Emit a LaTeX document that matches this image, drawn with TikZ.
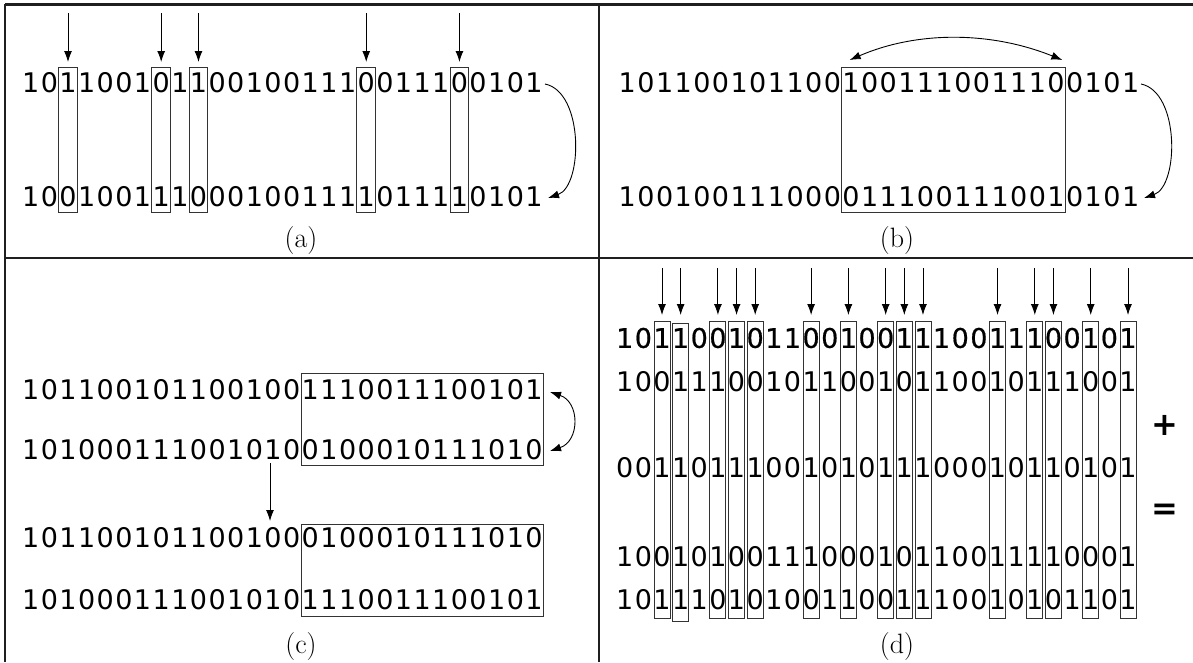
\documentclass[tikz,border=0pt]{standalone}
\usepackage{fontspec}
\newfontfamily\digfont{DejaVu Sans}
\newfontfamily\digboldfont[FakeBold=0.7]{DejaVu Sans}
\usetikzlibrary{arrows.meta}
\def\pp{18.64}
\tikzset{
  dig/.style={inner sep=0pt, font=\digfont\fontsize{27}{30}\selectfont},
  digb/.style={inner sep=0pt, font=\digboldfont\fontsize{27}{30}\selectfont},
  sym/.style={inner sep=0pt, font=\digfont\bfseries\fontsize{32}{36}\selectfont},
  lab/.style={inner sep=0pt, font=\fontsize{28}{32}\selectfont},
  frame/.style={line width=2.5pt, draw=black!88},
  selbox/.style={draw=black!80, line width=0.9pt},
  arr/.style={line width=0.9pt, -{Latex[length=11pt,width=8pt]}},
  darr/.style={line width=0.9pt, {Latex[length=11pt,width=8pt]}-{Latex[length=11pt,width=8pt]}},
}
% style, name, x0, y, digits
\newcommand\digrow[5]{%
  \foreach \d [count=\i from 0] in {#5} {\node[#1] (#2-\i) at ({#3+(\i+0.5)*\pp},#4) {\d};}}
% x0, index, ytop, ybot, half width
\newcommand\slotbox[5]{%
  \draw[selbox] ({#1+(#2+0.5)*\pp-#5},#3) rectangle ({#1+(#2+0.5)*\pp+#5},#4);}
% name, x0, index, ytop, ybot
\newcommand\slotarrow[5]{%
  \coordinate (#1-s) at ({#2+(#3+0.5)*\pp},#4);
  \coordinate (#1-e) at ({#2+(#3+0.5)*\pp},#5);
  \draw[arr] (#1-s) -- (#1-e);}
\begin{document}
\begin{tikzpicture}[x=1pt,y=-1pt]
\useasboundingbox (0,0) rectangle (1193,662);
% frame
\draw[frame] (5,4.5) -- (1193,4.5);
\draw[frame] (5,3.5) -- (5,662);
\draw[frame] (599,4) -- (599,662);
\draw[frame] (5,258) -- (1193,258);

% ---------- (a)
\def\xa{21.4}
\digrow{dig}{a1}{\xa}{83}{1,0,1,1,0,0,1,0,1,1,0,0,1,0,0,1,1,1,0,0,1,1,1,0,0,1,0,1}
\digrow{dig}{a2}{\xa}{197}{1,0,0,1,0,0,1,1,1,0,0,0,1,0,0,1,1,1,1,0,1,1,1,1,0,1,0,1}
\foreach \k in {2,7,9,18,23} {
  \slotbox{\xa}{\k}{67}{212}{9.32}
  \slotarrow{aa\k}{\xa}{\k}{13}{62}
}
\coordinate (ac1) at (545,84);
\coordinate (ac2) at (548,198);
\draw[arr] (ac1) .. controls (584,92) and (583,186) .. (ac2);
\node[lab] (la) at (301,241) {(a)};

% ---------- (b)
\def\xb{618}
\digrow{dig}{b1}{\xb}{83}{1,0,1,1,0,0,1,0,1,1,0,0,1,0,0,1,1,1,0,0,1,1,1,0,0,1,0,1}
\digrow{dig}{b2}{\xb}{197}{1,0,0,1,0,0,1,1,1,0,0,0,0,1,1,1,0,0,1,1,1,0,0,1,0,1,0,1}
\draw[selbox] ({\xb+12*\pp},67) rectangle ({\xb+24*\pp},212);
\coordinate (bd1) at ({\xb+12*\pp+8},60);
\coordinate (bd2) at ({\xb+24*\pp-3},60);
\draw[darr] (bd1) .. controls ({\xb+12*\pp+75},31) and ({\xb+24*\pp-75},31) .. (bd2);
\coordinate (bc1) at (1141,84);
\coordinate (bc2) at (1144,198);
\draw[arr] (bc1) .. controls (1180,92) and (1179,186) .. (bc2);
\node[lab] (lb) at (897,241) {(b)};

% ---------- (c)
\def\xc{21.4}
\digrow{dig}{c1}{\xc}{390}{1,0,1,1,0,0,1,0,1,1,0,0,1,0,0,1,1,1,0,0,1,1,1,0,0,1,0,1}
\digrow{dig}{c2}{\xc}{450}{1,0,1,0,0,0,1,1,1,0,0,1,0,1,0,0,1,0,0,0,1,0,1,1,1,0,1,0}
\digrow{dig}{c3}{\xc}{538}{1,0,1,1,0,0,1,0,1,1,0,0,1,0,0,0,1,0,0,0,1,0,1,1,1,0,1,0}
\digrow{dig}{c4}{\xc}{600}{1,0,1,0,0,0,1,1,1,0,0,1,0,1,0,1,1,1,0,0,1,1,1,0,0,1,0,1}
\draw[selbox] ({\xc+15*\pp},373) rectangle ({\xc+28*\pp},465);
\draw[selbox] ({\xc+15*\pp},524) rectangle ({\xc+28*\pp},616);
\coordinate (cs) at (270,463);
\coordinate (ce) at (270,521);
\draw[arr] (cs) -- (ce);
\coordinate (cd1) at (550,392);
\coordinate (cd2) at (550,451);
\draw[darr] (cd1) .. controls (580,402) and (580,441) .. (cd2);
\node[lab] (lc) at (301,647) {(c)};

% ---------- (d)
\def\xd{615.4}
\digrow{digb}{d1}{\xd}{338}{1,0,1,1,0,0,1,0,1,1,0,0,1,0,0,1,1,1,0,0,1,1,1,0,0,1,0,1}
\digrow{dig}{d2}{\xd}{382}{1,0,0,1,1,1,0,0,1,0,1,1,0,0,1,0,1,1,0,0,1,0,1,1,1,0,0,1}
\digrow{dig}{d3}{\xd}{468}{0,0,1,1,0,1,1,1,0,0,1,0,1,0,1,1,1,0,0,0,1,0,1,1,0,1,0,1}
\digrow{dig}{d4}{\xd}{557}{1,0,0,1,0,1,0,0,1,1,1,0,0,0,1,0,1,1,0,0,1,1,1,1,0,0,0,1}
\digrow{dig}{d5}{\xd}{600}{1,0,1,1,1,0,1,0,1,0,0,1,1,0,0,1,1,1,0,0,1,0,1,0,1,1,0,1}
\foreach \k in {2,5,6,7,10,12,14,15,16,20,22,23,25,27} {
  \slotbox{\xd}{\k}{321}{618}{8}
  \slotarrow{da\k}{\xd}{\k}{268}{315}
}
\slotbox{\xd}{3}{323}{621}{8}
\slotarrow{da3}{\xd}{3}{268}{315}
\node[sym] (plus) at (1165,425) {+};
\node[sym] (eq) at (1165,512) {=};
\node[lab] (ld) at (897,647) {(d)};
\end{tikzpicture}
\end{document}
